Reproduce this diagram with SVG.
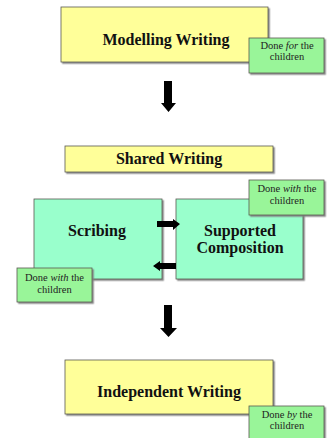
<svg xmlns="http://www.w3.org/2000/svg" width="333" height="438" viewBox="0 0 333 438">
<defs>
<filter id="sh" x="-10%" y="-10%" width="130%" height="140%">
<feDropShadow dx="1.5" dy="1.5" stdDeviation="0.6" flood-color="#808080" flood-opacity="0.9"/>
</filter>
</defs>
<style>
.box{stroke:#5a5a50;stroke-width:0.8;filter:url(#sh)}
.y{fill:#FFFF99}
.m{fill:#99FFCC}
.g{fill:#99F599}
.t{font-family:"Liberation Serif","Times New Roman",serif;font-weight:bold;font-size:16px;fill:#111;text-anchor:middle}
.s{font-family:"Liberation Serif","Times New Roman",serif;font-size:10.5px;fill:#222;text-anchor:middle}
.arr{fill:#000}
</style>
<rect width="333" height="438" fill="#fff"/>
<g id="modelling">
<rect class="box y" x="61" y="7" width="207" height="55"/>
<text class="t" x="166" y="45">Modelling Writing</text>
</g>
<g id="done-for">
<rect class="box g" x="249" y="38" width="75" height="35"/>
<text class="s" x="287" y="49">Done <tspan font-style="italic">for</tspan> the</text>
<text class="s" x="287" y="60">children</text>
</g>
<g id="shared">
<rect class="box y" x="65" y="146" width="208" height="26"/>
<text class="t" x="169" y="164">Shared Writing</text>
</g>
<g id="scribing">
<rect class="box m" x="34" y="199" width="128" height="80"/>
<text class="t" x="97" y="236">Scribing</text>
</g>
<g id="supported">
<rect class="box m" x="176" y="199" width="127" height="80"/>
<text class="t" x="240" y="236">Supported</text>
<text class="t" x="240" y="253">Composition</text>
</g>
<g id="done-with-1">
<rect class="box g" x="249" y="180" width="75" height="35"/>
<text class="s" x="287" y="192">Done <tspan font-style="italic">with</tspan> the</text>
<text class="s" x="287" y="204">children</text>
</g>
<g id="done-with-2">
<rect class="box g" x="17" y="268" width="75" height="34"/>
<text class="s" x="54.5" y="281">Done <tspan font-style="italic">with</tspan> the</text>
<text class="s" x="54.5" y="293">children</text>
</g>
<g id="independent">
<rect class="box y" x="65" y="360" width="208" height="54"/>
<text class="t" x="169" y="397">Independent Writing</text>
</g>
<g id="done-by">
<rect class="box g" x="249" y="406" width="75" height="34"/>
<text class="s" x="287" y="418">Done <tspan font-style="italic">by</tspan> the</text>
<text class="s" x="287" y="429">children</text>
</g>
<g id="connectors">
<polygon class="arr" points="164,81 172,81 172,103 176,103 168.5,112 161,103 164,103"/>
<polygon class="arr" points="164,305 172,305 172,328 177,328 168.5,337 160,328 164,328"/>
<polygon class="arr" points="157,221 173,221 173,219 180,224 173,230 173,227 157,227"/>
<polygon class="arr" points="176,263 160,263 160,261 153,266 160,271 160,269 176,269"/>
</g>
</svg>
